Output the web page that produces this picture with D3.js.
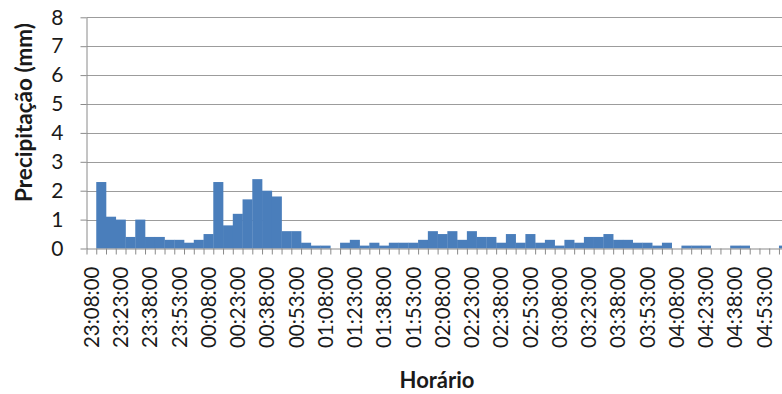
<!DOCTYPE html>
<html>
<head>
<meta charset="utf-8">
<script src="https://cdn.jsdelivr.net/npm/d3@7"></script>
<style>
  html, body { margin: 0; padding: 0; background: #fff; }
  svg { display: block; }
  text { font-family: Lato, "Open Sans", sans-serif; fill: #1a1a1a; }
</style>
</head>
<body>
<svg id="chart" width="782" height="394"></svg>
<script>
const categories = [
  "23:08:00","23:13:00","23:18:00","23:23:00","23:28:00","23:33:00",
  "23:38:00","23:43:00","23:48:00","23:53:00","23:58:00","00:03:00",
  "00:08:00","00:13:00","00:18:00","00:23:00","00:28:00","00:33:00",
  "00:38:00","00:43:00","00:48:00","00:53:00","00:58:00","01:03:00",
  "01:08:00","01:13:00","01:18:00","01:23:00","01:28:00","01:33:00",
  "01:38:00","01:43:00","01:48:00","01:53:00","01:58:00","02:03:00",
  "02:08:00","02:13:00","02:18:00","02:23:00","02:28:00","02:33:00",
  "02:38:00","02:43:00","02:48:00","02:53:00","02:58:00","03:03:00",
  "03:08:00","03:13:00","03:18:00","03:23:00","03:28:00","03:33:00",
  "03:38:00","03:43:00","03:48:00","03:53:00","03:58:00","04:03:00",
  "04:08:00","04:13:00","04:18:00","04:23:00","04:28:00","04:33:00",
  "04:38:00","04:43:00","04:48:00","04:53:00","04:58:00","05:03:00"
];
const precipitation = [
  0, 2.3, 1.1, 1.0, 0.4, 1.0,
  0.4, 0.4, 0.3, 0.3, 0.2, 0.3,
  0.5, 2.3, 0.8, 1.2, 1.7, 2.4,
  2.0, 1.8, 0.6, 0.6, 0.2, 0.1,
  0.1, 0, 0.2, 0.3, 0.1, 0.2,
  0.1, 0.2, 0.2, 0.2, 0.3, 0.6,
  0.5, 0.6, 0.3, 0.6, 0.4, 0.4,
  0.2, 0.5, 0.2, 0.5, 0.2, 0.3,
  0.1, 0.3, 0.2, 0.4, 0.4, 0.5,
  0.3, 0.3, 0.2, 0.2, 0.1, 0.2,
  0, 0.1, 0.1, 0.1, 0, 0,
  0.1, 0.1, 0, 0, 0, 0.1
];
const yTicks = [0, 1, 2, 3, 4, 5, 6, 7, 8];
const labelEvery = 3;
const yTitle = "Precipitação (mm)";
const xTitle = "Horário";

const svg = d3.select("#chart");
const plotLeft = 86.5, plotTop = 17.3, plotBottom = 248.5, step = 9.753;
const xRight = plotLeft + categories.length * step;

const x = d3.scaleBand().domain(categories).range([plotLeft, xRight]).padding(0);
const xIdx = d3.scaleLinear().domain([0, categories.length]).range([plotLeft, xRight]);
const y = d3.scaleLinear().domain([0, 8]).range([plotBottom, plotTop]);

// gridlines
svg.append("g")
  .selectAll("line").data(yTicks.filter(d => d > 0)).join("line")
  .attr("x1", plotLeft).attr("x2", xRight)
  .attr("y1", d => Math.round(y(d)) + 0.5).attr("y2", d => Math.round(y(d)) + 0.5)
  .attr("stroke", "#9c9c9c").attr("stroke-width", 1);

// bars
svg.append("g")
  .selectAll("rect").data(precipitation).join("rect")
  .attr("x", (d, i) => x(categories[i]))
  .attr("width", x.bandwidth() + 0.3)
  .attr("y", d => y(d))
  .attr("height", d => y(0) - y(d))
  .attr("fill", "#4a7ebb");

// y axis
const yAxis = svg.append("g")
  .attr("transform", `translate(${plotLeft},0)`)
  .call(d3.axisLeft(y).tickValues(yTicks).tickSize(6).tickPadding(17).tickSizeOuter(0));
yAxis.select(".domain").attr("stroke", "#8a8a8a");
yAxis.selectAll(".tick line").attr("stroke", "#8a8a8a");
yAxis.selectAll(".tick text").style("font-size", "21px").attr("fill", "#1a1a1a");

// x axis ticks at category boundaries
const xTickAxis = svg.append("g")
  .attr("transform", `translate(0,${plotBottom})`)
  .call(d3.axisBottom(xIdx).tickValues(d3.range(0, categories.length + 1)).tickFormat("").tickSize(6).tickSizeOuter(0));
xTickAxis.select(".domain").attr("stroke", "#8a8a8a");
xTickAxis.selectAll(".tick line").attr("stroke", "#8a8a8a");

// x labels
const xLab = svg.append("g")
  .attr("transform", `translate(0,${plotBottom})`)
  .call(d3.axisBottom(x).tickValues(categories.filter((c, i) => i % labelEvery === 0)).tickSize(0));
xLab.select(".domain").remove();
xLab.selectAll(".tick text")
  .attr("transform", "rotate(-90)")
  .attr("x", -18)
  .attr("y", 0)
  .attr("dy", "0.36em")
  .attr("text-anchor", "end")
  .style("font-size", "20.5px")
  .attr("fill", "#1a1a1a");

// titles
svg.append("text")
  .attr("transform", `translate(32,${(13 + 212) / 2}) rotate(-90)`)
  .attr("text-anchor", "middle")
  .style("font-size", "22.5px").style("font-weight", "bold")
  .text(yTitle);

svg.append("text")
  .attr("x", 437).attr("y", 388)
  .attr("text-anchor", "middle")
  .style("font-size", "22px").style("font-weight", "bold")
  .text(xTitle);
</script>
</body>
</html>
